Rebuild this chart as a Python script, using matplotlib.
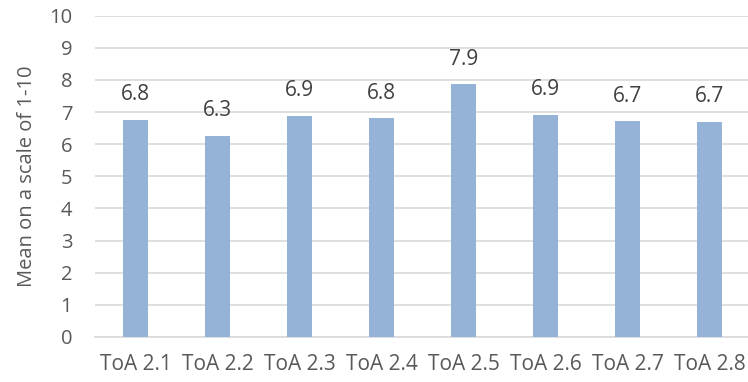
import matplotlib
matplotlib.use('Agg')
import matplotlib.pyplot as plt

# mean ratings per item
items = ['ToA 2.1', 'ToA 2.2', 'ToA 2.3', 'ToA 2.4', 'ToA 2.5', 'ToA 2.6', 'ToA 2.7', 'ToA 2.8']
means = [6.76, 6.26, 6.88, 6.80, 7.86, 6.91, 6.71, 6.70]

plt.rcParams['font.family'] = ['Open Sans', 'DejaVu Sans']
txt_col = '#595959'

fig = plt.figure(figsize=(7.48, 3.82), dpi=100)
ax = fig.add_axes([94.5/748, 45/382, 656/748, 321.4/382])

x = range(len(items))
bars = ax.bar(x, means, width=0.31, color='#95B3D7', zorder=3)

for b, v in zip(bars, means):
    ax.annotate('%.1f' % v, (b.get_x() + b.get_width()/2, v),
                xytext=(0, 14), textcoords='offset points',
                ha='center', va='baseline', fontsize=15, color='#404040')

ax.set_xlim(-0.5, 7.5)
ax.set_ylim(0, 10)
ax.set_yticks(range(0, 11))
ax.set_xticks(list(x))
ax.set_xticklabels(items)
ax.yaxis.grid(True, color='#D9D9D9', linewidth=1.2, zorder=0)
ax.set_axisbelow(True)
for s in ['top', 'right', 'left']:
    ax.spines[s].set_visible(False)
ax.spines['bottom'].set_color('#D9D9D9')
ax.spines['bottom'].set_linewidth(1.2)
ax.tick_params(axis='both', length=0, labelcolor=txt_col)
ax.tick_params(axis='y', pad=16, labelsize=14.5)
ax.tick_params(axis='x', pad=12, labelsize=15)
ax.set_ylabel('Mean on a scale of 1-10', fontsize=14.5, color=txt_col, labelpad=9)

fig.savefig('out.png', dpi=100)
